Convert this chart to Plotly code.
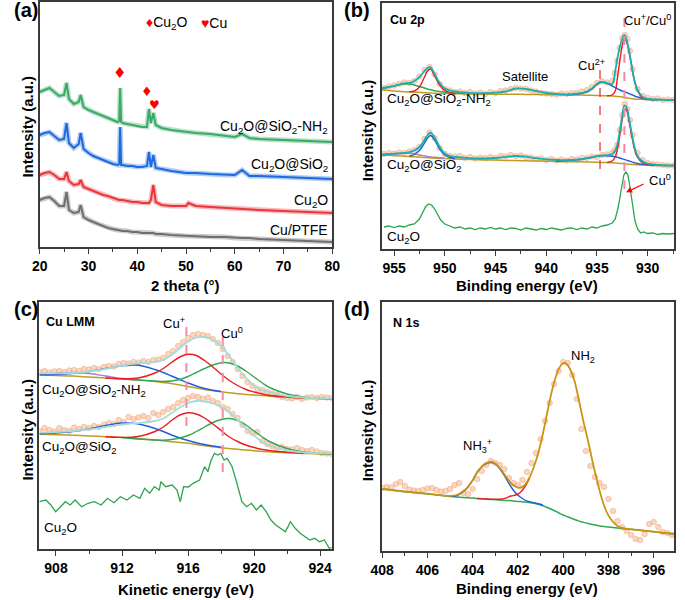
import plotly.graph_objects as go

W, H = 685, 600

# ---------------- (a) XRD ----------------
xrd_theta = [20, 21, 22, 23, 24, 25, 25.5, 26, 27, 28, 28.4, 29, 30, 31, 32, 33, 34, 35, 36, 36.3,
             36.5, 36.7, 37, 38, 39, 40, 41, 42, 42.4, 42.8, 43.3, 43.8, 45, 47, 50, 50.5, 52, 55, 58, 60,
             61.5, 63, 65, 70, 75, 80]
xrd_nh2 = [155, 157, 159, 155, 151, 152, 164, 148, 143, 145,
           152, 140, 137, 135, 133, 131, 129, 127, 125, 126,
           159, 125, 124, 123, 122, 121, 120, 120, 138, 124,
           134, 122, 119, 117, 115, 115, 114, 113, 111, 110,
           113, 109, 108, 107, 106, 105]
xrd_sio2 = [112, 114, 115, 111, 107, 108, 124, 104, 99, 103,
            114, 98, 94, 91, 89, 87, 85, 83, 82, 83,
            120, 82, 82, 81, 81, 80, 80, 81, 95, 80,
            92, 79, 78, 76, 74, 74, 74, 73, 72, 72,
            77, 71, 71, 70, 69, 68]
xrd_cu2o = [72, 74, 75, 72, 68, 68, 75, 66, 62, 63,
            67, 60, 58, 56, 54, 52, 51, 49, 47, 47,
            47, 47, 47, 46, 45, 45, 44, 44, 44, 47,
            62, 45, 42, 41, 41, 44, 41, 40, 39, 39,
            38, 38, 37, 36, 35, 34]
xrd_ptfe = [47, 49, 50, 46, 41, 41, 55, 37, 34, 35,
            42, 30, 27, 25, 23, 21, 19, 18, 17, 17,
            17, 17, 16, 16, 15, 15, 14, 14, 14, 14,
            14, 13, 13, 12, 11, 11, 11, 10, 10, 9,
            9, 9, 8, 7, 6, 5]
xrd_ticks = [20, 30, 40, 50, 60, 70, 80]

# ---------------- (b) Cu 2p ----------------
b_E = [956.2, 955.5, 955, 954.5, 954, 953.5, 953, 952.5, 952, 951.7,
       951.4, 951, 950.5, 950, 949.5, 949, 948, 947, 946, 945,
       944, 943, 942, 941, 940, 939, 938, 937, 936, 935.5,
       935, 934.7, 934.3, 934, 933.5, 933.2, 933, 932.75, 932.5, 932.3,
       932.1, 931.85, 931.6, 931.3, 931, 930.5, 930, 929, 928, 927.4]
N = None
b1_env = [160.7, 162, 163, 164.5, 165.7, 166, 168, 172, 178, 181,
          181.7, 175, 166, 160.5, 158.5, 157.5, 156.3, 155.8, 155.8, 156.3,
          157.5, 160.5, 160, 158, 156, 155, 154.7, 155.3, 157.5, 160.5,
          165, 167, 166.8, 166, 165, 178, 190, 202, 210.5, 214,
          210, 199, 184, 168, 159, 152, 150, 149.5, 149, 149]
b1_base = [159, 158.5, 158, 157.7, 157.3, 157, 156.8, 156.5, 156.3, 156.2,
           156, 155.8, 155.6, 155.5, 155.4, 155.3, 155.1, 155, 154.9, 154.8,
           154.8, 154.7, 154.6, 154.5, 154.4, 154.2, 154.1, 154, 153.8, 153.7,
           153.5, 153.4, 153.3, 153.2, 153, 152.8, 152.6, 152.3, 152, 151.6,
           151.2, 150.8, 150.4, 150, 149.8, 149.6, 149.4, 149.2, 149, 149]
b1_red = [N, N, N, N, N, 157.2, 158, 162, 172, 178,
          180, 173, 164, 158.5, 156.3, 155.5, N, N, N, N,
          N, N, N, N, N, N, N, N, N, N,
          N, N, N, 153.3, 154, 158, 170, 188, 204, 210,
          207.5, 197.5, 184.5, 168, 158, 151, 149.5, N, N, N]
b1_blue = [N, N, N, N, N, N, N, N, N, N,
           N, N, N, N, N, N, N, N, N, N,
           N, N, N, N, N, N, 154.3, 155, 157, 160,
           164.5, 166.5, 166.5, 165.5, 163, 161.5, 160.3, 159, 158, 157.3,
           156.5, 155.5, 154.5, 153, 152, 150.7, 149.8, 149.3, N, N]
b1_green = [160.5, 162, 163, 164.3, 165.2, 165, 164, 162.5, 161, 160,
            159.2, 158.3, 157.5, 156.8, 156.3, 156, 155.4, N, N, N,
            N, N, N, N, N, N, N, N, N, N,
            N, N, N, N, N, N, N, N, N, N,
            N, N, N, N, N, N, N, N, N, N]
b2_env = [94.5, 95, 95.3, 95.7, 96, 96.8, 98.5, 102, 109, 114,
          116.3, 111.5, 102, 95.5, 93, 92, 91.2, 90.7, 90.5, 91,
          92.2, 93, 92.3, 90.8, 89.6, 89, 88.8, 89.3, 90.8, 91.8,
          92.8, 93.3, 93.6, 93.8, 95, 98.5, 104, 118, 134, 143.5,
          142, 131, 117, 102, 93, 87.5, 85.3, 84, 83.5, 83.5]
b2_base = [94, 93.7, 93.4, 93.1, 92.8, 92.5, 92.2, 91.9, 91.6, 91.3,
           91, 90.8, 90.6, 90.4, 90.2, 90, 89.7, 89.4, 89.1, 88.9,
           88.6, 88.4, 88.2, 88, 87.8, 87.6, 87.4, 87.2, 87, 86.9,
           86.7, 86.6, 86.5, 86.4, 86.2, 86, 85.8, 85.6, 85.4, 85.2,
           85, 84.8, 84.6, 84.4, 84.2, 84, 83.9, 83.7, 83.5, 83.5]
b2_red = [N, N, N, N, N, N, N, N, N, N,
          N, N, N, N, N, N, N, N, N, N,
          N, N, N, N, N, N, N, N, N, N,
          N, N, N, 86.5, 88, 92, 99, 113.5, 130, 140,
          139, 128.5, 114.5, 100, 91.5, 86, 84.2, N, N, N]
b2_blue = [N, N, N, N, N, 92.7, 94.5, 98.5, 106, 111,
           113.5, 109, 100, 94, 91.5, 90.5, N, N, N, N,
           N, N, N, N, N, 87.8, 88.5, 89.3, 90.8, 91.8,
           92.8, 93.2, 93.4, 93.3, 92.8, 92.3, 91.8, 91, 90.2, 89.5,
           88.8, 88, 87.2, 86.3, 85.5, 84.6, 84, 83.7, N, N]
b2_purple = [94.1, 94.5, 95, 95.5, 95.8, 95.7, 95, 94, 93.2, 92.6,
             92.2, 91.7, 91.2, 90.8, N, N, N, N, N, N,
             N, N, N, N, N, N, N, N, N, N,
             N, N, N, N, N, N, N, N, N, N,
             N, N, N, N, N, N, N, N, N, N]
b_dotE = [956.0, 955.5, 955.0, 954.5, 954.0, 953.5, 953.0, 952.5, 952.0, 951.5,
          951.0, 950.5, 950.0, 949.5, 949.0, 948.5, 948.0, 947.5, 947.0, 946.5,
          946.0, 945.5, 945.0, 944.5, 944.0, 943.5, 943.0, 942.5, 942.0, 941.5,
          941.0, 940.5, 940.0, 939.5, 939.0, 938.5, 938.0, 937.5, 937.0, 936.5,
          936.0, 935.5, 935.0, 934.5, 934.0, 933.5, 933.25, 933.0, 932.75, 932.5,
          932.25, 932.0, 931.75, 931.5, 931.0, 930.5, 930.0, 929.5, 929.0, 928.5,
          928.0, 927.5]
b1_dots = [161, 162.5, 163.5, 165, 166.5, 166, 168, 172.5, 179, 182,
           174.5, 165, 160, 158.5, 157, 157.5, 156, 157, 155.5, 156.5,
           155, 157, 156, 158, 158.5, 160, 161, 160.5, 160, 158.5,
           157.5, 156, 155.5, 155, 154.5, 155.5, 155, 156, 156, 157.5,
           159, 162, 166, 167.5, 166.5, 168, 176, 188, 201, 211,
           214, 210, 198, 180, 160, 153, 151, 150, 150.5, 149,
           149.5, 149]
b2_dots = [95, 96, 95.5, 96.5, 96, 97.5, 99, 102, 110, 116.5,
           111, 101, 95, 93, 92.5, 93, 91, 92, 90.5, 91.5,
           91, 92, 91, 93, 92.5, 94, 93, 93.5, 92, 91.5,
           90, 90.5, 89, 90, 88.5, 89.5, 88.5, 90, 89.5, 91,
           91, 92.5, 92, 94, 94.5, 96, 99, 104, 119, 134,
           145, 140, 129, 114, 96, 89, 86, 85, 84.5, 84,
           83.5, 83.5]
b3_E = [956.0, 955.5, 955.0, 954.5, 954.0, 953.5, 953.0, 952.5, 952.2, 951.9,
        951.6, 951.3, 951.0, 950.7, 950.4, 950.0, 949.5, 949.0, 948.5, 948.0,
        947.5, 947.0, 946.5, 946.0, 945.5, 945.0, 944.5, 944.0, 943.5, 943.0,
        942.5, 942.0, 941.5, 941.0, 940.5, 940.0, 939.5, 939.0, 938.5, 938.0,
        937.5, 937.0, 936.5, 936.0, 935.5, 935.0, 934.5, 934.0, 933.5, 933.2,
        932.9, 932.6, 932.35, 932.15, 931.95, 931.75, 931.5, 931.25, 931.0, 930.7,
        930.4, 930.0, 929.5, 929.0, 928.5, 928.0, 927.4]
b3_cu2o = [22, 23, 21.5, 23, 22, 24, 25, 30, 36, 42,
           45, 44, 40, 34, 29, 25, 23, 21, 22, 20,
           21, 19.5, 21, 20, 21.5, 20, 21, 19.5, 21, 20.5,
           19, 21, 20, 19, 20.5, 19.5, 21, 20, 19, 20.5,
           21, 19.5, 21, 20, 22, 21, 23, 24, 26, 30,
           42, 60, 74, 77, 74, 62, 44, 28, 20, 16,
           17, 15.5, 16, 14.5, 15.5, 15, 15.5]
b_ticks = [955, 950, 945, 940, 935, 930]

# ---------------- (c) Cu LMM ----------------
c_E = [907, 908, 909, 910, 911, 912, 913, 914, 914.5, 915,
       915.5, 916, 916.5, 917, 917.5, 918, 918.5, 919, 919.5, 920,
       920.5, 921, 922, 923, 924, 924.7]
c1_base = [174, 173.5, 173, 172, 171, 170, 169, 167.5, 166.5, 165.5,
           164, 162.5, 161, 159.5, 158.3, 157.2, 156.2, 155.3, 154.6, 154,
           153.4, 152.8, 151.7, 151, 150.4, 150]
c1_env = [175.7, 175.7, 176, 177.5, 180, 183.5, 186, 187, 189, 194,
          201, 207.5, 211.5, 212, 209.5, 203, 193, 181, 171, 163.5,
          159, 156.3, 153, 151.5, 150.7, 150.3]
c1_red = [N, N, N, N, 171, 170.2, 171, 176, 180.5, 186.5,
          192, 194.7, 193.5, 188.5, 182, 175, 168.5, 163.5, 159.5, 157,
          155, 153.5, 152, 151, N, N]
c1_green = [N, N, N, N, N, 170, 169, 168, 167.5, 168,
            169.5, 172.5, 176.5, 180.5, 184, 186.3, 186, 183, 178, 172,
            166, 161, 155, 152, 150.5, 150]
c1_blue = [174.2, 174.5, 175.5, 177.5, 180.5, 183.3, 183.8, 179.5, 176.5, 173,
           169.5, 166, 163, 160.5, 158.8, 157.5, N, N, N, N,
           N, N, N, N, N, N]
c1_purple = [174.5, 175.8, 176.5, 175.5, 173, 170.5, 169, N, N, N,
             N, N, N, N, N, N, N, N, N, N,
             N, N, N, N, N, N]
c2_base = [114.7, 114.3, 113.8, 113, 112.3, 111.5, 110.3, 109, 108.2, 107.3,
           106.5, 105.7, 104.5, 103.3, 102.3, 101.3, 100.5, 99.7, 99, 98.2,
           97.6, 97, 96.2, 95.6, 95, 94.7]
c2_env = [116.3, 117, 118, 119.5, 122, 124.5, 126, 128, 130.5, 136,
          141.5, 146, 148, 147.5, 145.5, 142, 136.5, 129, 121, 113.5,
          107, 103, 98.5, 96.7, 95.8, 95.5]
c2_red = [N, N, N, N, 112.3, 111.6, 112.5, 117.5, 122, 128.5,
          134, 136.3, 135, 131, 125, 118.5, 112, 107.5, 104, 101.5,
          99.5, 98.3, 96.8, 95.8, N, N]
c2_green = [N, N, N, N, N, 111.5, 110, 109, 108.8, 109.5,
            111, 113.5, 117.5, 122, 126.5, 129.5, 130.5, 128.5, 124, 118,
            112, 107, 100.5, 97, 95.5, 95]
c2_blue = [115.3, 116, 117.5, 120, 123.5, 126, 125, 120.5, 117.5, 114,
           111, 108.5, 106.3, 104.5, 103, 101.7, N, N, N, N,
           N, N, N, N, N, N]
c_dotE = [907.0, 907.3, 907.6, 907.9, 908.2, 908.5, 908.8, 909.1, 909.4, 909.7,
          910.0, 910.3, 910.6, 910.9, 911.2, 911.5, 911.8, 912.1, 912.4, 912.7,
          913.0, 913.3, 913.6, 913.9, 914.2, 914.5, 914.8, 915.1, 915.4, 915.7,
          916.0, 916.3, 916.6, 916.9, 917.2, 917.5, 917.8, 918.1, 918.4, 918.7,
          919.0, 919.3, 919.6, 919.9, 920.2, 920.5, 920.8, 921.1, 921.4, 921.7,
          922.0, 922.3, 922.6, 922.9, 923.2, 923.5, 923.8, 924.1, 924.4, 924.7]
c1_dots = [177, 178, 176.5, 177.5, 178, 177, 178.5, 179, 178, 180,
           179.5, 181, 180, 182, 183, 182.5, 185, 186, 185.5, 187,
           186.5, 188, 187, 189, 189.5, 191, 195, 198, 203, 207,
           211, 214, 215, 214, 213, 210, 206, 200, 193, 187,
           180, 173, 167, 163, 160, 159, 157, 155.5, 154, 152,
           151, 150.5, 152, 150, 151.5, 152, 151, 152, 151.5, 151]
c2_dots = [118, 121, 119, 117.5, 121, 119, 118, 121.5, 120, 122,
           121, 123, 122, 124.5, 126, 125, 129, 127, 132, 130,
           131.5, 133, 131, 136, 134, 137, 140, 142, 146, 149,
           151, 153, 152, 150, 151.5, 148, 146, 142, 140, 135,
           131, 124, 118, 116, 117, 108, 105, 103, 101, 102,
           100, 99.5, 101, 99, 98, 99, 97.5, 96, 95.5, 95]
c3_E = [906.99, 907.39, 907.69, 907.98, 908.28, 908.57, 908.86, 909.16, 909.55, 909.94,
        910.33, 910.73, 911.12, 911.51, 911.9, 912.3, 912.69, 913.08, 913.37, 913.67,
        913.96, 914.26, 914.35, 914.65, 915.04, 915.33, 915.53, 915.73, 916.02, 916.31,
        916.7, 917.0, 917.2, 917.4, 917.6, 917.8, 917.98, 918.18, 918.37, 918.67,
        918.96, 919.26, 919.55, 919.84, 920.14, 920.43, 920.73, 921.02, 921.31, 921.61,
        921.9, 922.2, 922.49, 922.79, 923.08, 923.38, 923.67, 923.96, 924.26, 924.55,
        924.7]
c3_cu2o = [47.3, 49, 44, 37.3, 42.3, 47.3, 44, 49, 42.3, 45.7,
           47.3, 44, 50.7, 46.3, 52.3, 49, 54, 50.7, 60.7, 55.7,
           62.3, 59, 67.3, 62.3, 64, 59, 47.3, 62.3, 62, 65.7,
           69, 82.3, 77.3, 89, 95.7, 94, 95.7, 89, 90.7, 82.3,
           65.7, 47.3, 42.3, 45.7, 39, 44, 37.3, 29, 24, 20.7,
           17.3, 27.3, 20.7, 15.7, 12.3, 9, 10.7, 7.3, 9, 0.7,
           1.5]
c_ticks = [908, 912, 916, 920, 924]

# ---------------- (d) N 1s ----------------
d_E = [408, 407, 406, 405, 404.7, 404.4, 404.2, 404, 403.8, 403.5,
       403.2, 403, 402.7, 402.5, 402.3, 402.1, 401.9, 401.7, 401.5, 401.3,
       401.1, 400.9, 400.7, 400.5, 400.3, 400.15, 400, 399.85, 399.7, 399.5,
       399.3, 399.1, 398.9, 398.7, 398.5, 398.3, 398.1, 397.9, 397.6, 397.3,
       397, 396.5, 396, 395.5, 395.1]
d_base = [62, 59.3, 57, 54.6, 54, 53.5, 53.2, 52.9, 52.5, 52,
          51.6, 51.3, 50.8, 50.5, 50.2, 49.8, 49.4, 49, 48.4, 47.7,
          46.7, 45.3, 43.5, 41.5, 39.3, 37.6, 36, 34.6, 33.2, 31.5,
          29.9, 28.6, 27.5, 26.5, 25.6, 24.8, 24.2, 23.7, 23, 22.3,
          21.6, 20.5, 19.3, 18, 17]
d_env = [62, 59.5, 57.3, 55.2, 56, 60, 64.5, 71, 79, 86.5,
         89.3, 87.5, 80, 73.5, 67.5, 64.2, 63.1, 66, 73, 84,
         98, 117, 139, 160, 176, 184, 188, 187, 182, 170,
         150, 129, 110, 89, 70, 53, 40, 32, 25, 22.5,
         21.8, 20.5, 19.3, 18, 17]
d_blue = [N, N, N, 54.6, 55.5, 59.5, 64, 70.5, 78.5, 86,
          88.8, 87, 79, 71.5, 64, 58, 54, 51, 49.3, 48.3,
          47.3, 46, N, N, N, N, N, N, N, N,
          N, N, N, N, N, N, N, N, N, N,
          N, N, N, N, N]
d_red = [N, N, N, N, N, N, N, N, 52.5, 52.1,
         51.8, 51.7, 52, 53.2, 55, 56, 58.5, 64, 72, N,
         N, N, N, N, N, N, N, N, N, N,
         N, N, N, N, N, N, N, N, N, N,
         N, N, N, N, N]
d_dotE = [408.0, 407.8, 407.6, 407.4, 407.2, 407.0, 406.8, 406.6, 406.4, 406.2,
          406.0, 405.8, 405.6, 405.4, 405.2, 405.0, 404.8, 404.6, 404.4, 404.2,
          404.0, 403.8, 403.6, 403.4, 403.2, 403.0, 402.8, 402.6, 402.4, 402.2,
          402.0, 401.8, 401.6, 401.4, 401.2, 401.0, 400.8, 400.6, 400.4, 400.2,
          400.0, 399.8, 399.6, 399.4, 399.2, 399.0, 398.8, 398.6, 398.4, 398.2,
          398.0, 397.8, 397.6, 397.4, 397.2, 397.0, 396.8, 396.6, 396.4, 396.2,
          396.0, 395.8, 395.6, 395.4, 395.2]
d_dots = [63, 64, 63.5, 67, 69, 65, 61.5, 60.5, 60, 61,
          62.5, 63, 61, 59.5, 60, 62, 66, 68, 58, 57,
          62, 72, 80, 86, 90, 88, 86, 82, 73, 68,
          66, 71, 79, 88, 98, 112, 130, 148, 167, 180,
          189, 188, 176, 152, 122, 100, 85, 74, 68, 64,
          52, 40, 30, 24, 20, 16, 12, 11, 17, 27,
          29, 24, 19, 18, 16]
d_ticks = [408, 406, 404, 402, 400, 398, 396]

# ---------------- colours ----------------
C_DOT = 'rgba(246,182,140,0.55)'
C_DOT_EDGE = 'rgba(236,150,100,0.55)'
C_ENV_B = '#16b0b4'
C_ENV_C = '#a6dbdb'
C_ENV_D = '#c99414'
C_BASE = '#c29c22'
C_RED = '#ec1c24'
C_BLUE = '#1f5ed8'
C_GREEN = '#33a852'
C_PURPLE = '#b07cc6'

fig = go.Figure()


def line(x, y, color, width, xa, ya, shape='spline', opacity=1.0):
    fig.add_trace(go.Scatter(x=x, y=y, mode='lines', xaxis=xa, yaxis=ya,
                             line=dict(color=color, width=width, shape=shape),
                             opacity=opacity, connectgaps=False,
                             showlegend=False, hoverinfo='skip'))


def dots(x, y, xa, ya):
    fig.add_trace(go.Scatter(x=x, y=y, mode='markers', xaxis=xa, yaxis=ya,
                             marker=dict(size=5.5, color=C_DOT,
                                         line=dict(color=C_DOT_EDGE, width=0.8)),
                             showlegend=False, hoverinfo='skip'))


# (a) XRD - a light wide band plus a darker core line for each pattern
for ys, col in [(xrd_ptfe, '#6f6f6f'), (xrd_cu2o, '#e8383d'),
                (xrd_sio2, '#1e6ae0'), (xrd_nh2, '#3aaa66')]:
    line(xrd_theta, ys, col, 5, 'x', 'y', shape='linear', opacity=0.35)
    line(xrd_theta, ys, col, 2, 'x', 'y', shape='linear')

# (b)
dots(b_dotE, b1_dots, 'x2', 'y2')
dots(b_dotE, b2_dots, 'x2', 'y2')
for base, comps, env in [
        (b1_base, [(b1_green, C_GREEN), (b1_blue, C_BLUE), (b1_red, C_RED)], b1_env),
        (b2_base, [(b2_purple, C_PURPLE), (b2_blue, C_BLUE), (b2_red, C_RED)], b2_env)]:
    line(b_E, base, C_BASE, 1.5, 'x2', 'y2')
    for ys, col in comps:
        line(b_E, ys, col, 1.4, 'x2', 'y2')
    line(b_E, env, C_ENV_B, 1.8, 'x2', 'y2')
line(b3_E, b3_cu2o, '#2ea44f', 1.3, 'x2', 'y2', shape='linear')

# (c)
dots(c_dotE, c1_dots, 'x3', 'y3')
dots(c_dotE, c2_dots, 'x3', 'y3')
for base, comps, env in [
        (c1_base, [(c1_purple, C_PURPLE), (c1_blue, C_BLUE), (c1_green, C_GREEN), (c1_red, C_RED)], c1_env),
        (c2_base, [(c2_blue, C_BLUE), (c2_green, C_GREEN), (c2_red, C_RED)], c2_env)]:
    line(c_E, base, C_BASE, 1.5, 'x3', 'y3')
    for ys, col in comps:
        line(c_E, ys, col, 1.4, 'x3', 'y3')
    line(c_E, env, C_ENV_C, 1.8, 'x3', 'y3')
line(c3_E, c3_cu2o, '#2ea44f', 1.3, 'x3', 'y3', shape='linear')

# (d)
dots(d_dotE, d_dots, 'x4', 'y4')
line(d_E, d_base, C_GREEN, 1.5, 'x4', 'y4')
line(d_E, d_blue, C_BLUE, 1.4, 'x4', 'y4')
line(d_E, d_red, C_RED, 1.4, 'x4', 'y4')
line(d_E, d_env, C_ENV_D, 1.8, 'x4', 'y4')

# ---------------- axes ----------------
AX_COL = '#3a3a3a'
FONT = 'Liberation Sans, Arial, sans-serif'


def xax(dom, rng, tickvals, minor_dtick, anchor):
    return dict(domain=dom, range=rng, anchor=anchor, tickvals=tickvals,
                ticks='outside', ticklen=5, tickwidth=1.3, tickcolor=AX_COL,
                minor=dict(dtick=minor_dtick, ticks='outside', ticklen=3,
                           tickwidth=1.1, tickcolor=AX_COL,
                           tick0=tickvals[0]),
                showline=True, mirror=True, linecolor=AX_COL, linewidth=1.5,
                showgrid=False, zeroline=False,
                tickfont=dict(family=FONT, size=14, color='black', weight='bold'))


def yax(dom, rng, anchor):
    return dict(domain=dom, range=rng, anchor=anchor, showticklabels=False,
                ticks='', showline=True, mirror=True, linecolor=AX_COL,
                linewidth=1.5, showgrid=False, zeroline=False)


def fx(px):
    return px / W


def fy(py):
    return 1 - py / H


fig.update_layout(
    width=W, height=H, margin=dict(l=0, r=0, t=0, b=0),
    paper_bgcolor='white', plot_bgcolor='white',
    xaxis=xax([fx(28.5), fx(330)], [20, 80], xrd_ticks, 5, 'y'),
    yaxis=yax([fy(247), fy(2)], [0, 245], 'x'),
    xaxis2=xax([fx(381), fx(682)], [956.2, 927.4], b_ticks, 2.5, 'y2'),
    yaxis2=yax([fy(249), fy(3)], [0, 246], 'x2'),
    xaxis3=xax([fx(28.3), fx(329.3)], [907, 924.7], c_ticks, 2, 'y3'),
    yaxis3=yax([fy(549), fy(302)], [0, 247], 'x3'),
    xaxis4=xax([fx(381.3), fx(682)], [408, 395.1], d_ticks, 1, 'y4'),
    yaxis4=yax([fy(551), fy(302)], [0, 249], 'x4'),
)

anns = []


def txt(text, px, py, size=13, bold=False, xanchor='center', color='black', angle=0):
    if bold:
        text = '<b>' + text + '</b>'
    anns.append(dict(text=text, x=fx(px), y=fy(py), xref='paper', yref='paper',
                     xanchor=xanchor, yanchor='middle', showarrow=False,
                     textangle=angle,
                     font=dict(family=FONT, size=size, color=color)))


def dtxt(text, x, y, xr, yr, size=15, color='red'):
    anns.append(dict(text=text, x=x, y=y, xref=xr, yref=yr, xanchor='center',
                     yanchor='middle', showarrow=False,
                     font=dict(family='DejaVu Sans', size=size, color=color)))


# panel letters
txt('(a)', 0, 10, 20, True, 'left')
txt('(b)', 340, 10, 20, True, 'left')
txt('(c)', 0, 309, 20, True, 'left')
txt('(d)', 340, 309, 20, True, 'left')

# axis titles
txt('Intensity (a.u.)', 15, 127, 15, True, angle=-90)
txt('Intensity (a.u.)', 366, 130, 15, True, angle=-90)
txt('Intensity (a.u.)', 15, 430, 15, True, angle=-90)
txt('Intensity (a.u.)', 366, 430, 15, True, angle=-90)
txt('2 theta (°)', 179, 285, 15, True)
txt('Binding energy (eV)', 531, 285, 15, True)
txt('Kinetic energy (eV)', 179, 589, 15, True)
txt('Binding energy (eV)', 531, 588, 15, True)

# (a) annotations
txt("<span style='color:red'>♦</span>Cu<sub>2</sub>O", 136, 23, 14, False, 'left')
txt("<span style='color:red'>♥</span>Cu", 193, 23, 14, False, 'left')
dtxt('♦', 36.39, 174, 'x', 'y', 15)
dtxt('♦', 42.0, 155, 'x', 'y', 13)
dtxt('♥', 43.6, 141.5, 'x', 'y', 12)
txt('Cu<sub>2</sub>O@SiO<sub>2</sub>-NH<sub>2</sub>', 328, 127, 14, False, 'right')
txt('Cu<sub>2</sub>O@SiO<sub>2</sub>', 328, 165, 14, False, 'right')
txt('Cu<sub>2</sub>O', 328, 201, 14, False, 'right')
txt('Cu/PTFE', 328, 230, 14, False, 'right')

# (b) annotations
txt('Cu 2p', 387, 20, 12.5, True, 'left')
txt('Satellite', 528, 77, 13)
txt('Cu<sup>2+</sup>', 597, 65, 13)
txt('Cu<sup>+</sup>/Cu<sup>0</sup>', 655, 20, 13)
txt('Cu<sup>0</sup>', 668, 180, 13)
txt('Cu<sub>2</sub>O@SiO<sub>2</sub>-NH<sub>2</sub>', 384, 100, 13.5, False, 'left')
txt('Cu<sub>2</sub>O@SiO<sub>2</sub>', 384, 165, 13.5, False, 'left')
txt('Cu<sub>2</sub>O', 384, 237, 13.5, False, 'left')
anns.append(dict(x=932.13, y=56.7, xref='x2', yref='y2', ax=19, ay=-9,
                 text='', showarrow=True, arrowhead=2, arrowsize=1,
                 arrowwidth=1.2, arrowcolor='red'))

# (c) annotations
txt('Cu LMM', 33, 322, 12.5, True, 'left')
txt('Cu<sup>+</sup>', 167, 323, 13)
txt('Cu<sup>0</sup>', 227, 333, 13)
txt('Cu<sub>2</sub>O@SiO<sub>2</sub>-NH<sub>2</sub>', 29, 390, 13.5, False, 'left')
txt('Cu<sub>2</sub>O@SiO<sub>2</sub>', 29, 447, 13.5, False, 'left')
txt('Cu<sub>2</sub>O', 31, 528, 13.5, False, 'left')

# (d) annotations
txt('N 1s', 390, 323, 12.5, True, 'left')
txt('NH<sub>2</sub>', 588, 356, 13)
txt('NH<sub>3</sub><sup>+</sup>', 480, 446, 13)

fig.update_layout(annotations=anns)

# dashed guide lines
shapes = [
    dict(type='line', xref='x2', yref='y2', x0=934.7, x1=934.7, y0=179, y1=78,
         line=dict(color='#e8383d', width=1.3, dash='dash')),
    dict(type='line', xref='x2', yref='y2', x0=932.3, x1=932.3, y0=231, y1=56,
         line=dict(color='#f58aa8', width=2, dash='dash')),
    dict(type='line', xref='x3', yref='y3', x0=915.9, x1=915.9, y0=222, y1=117,
         line=dict(color='#f58aa8', width=2, dash='dash')),
    dict(type='line', xref='x3', yref='y3', x0=918.1, x1=918.1, y0=212, y1=74,
         line=dict(color='#f58aa8', width=2, dash='dash')),
]
fig.update_layout(shapes=shapes)

fig.write_html('out.html', config={'displayModeBar': False},
               post_script="document.body.style.margin='0px';document.body.style.padding='0px';")
